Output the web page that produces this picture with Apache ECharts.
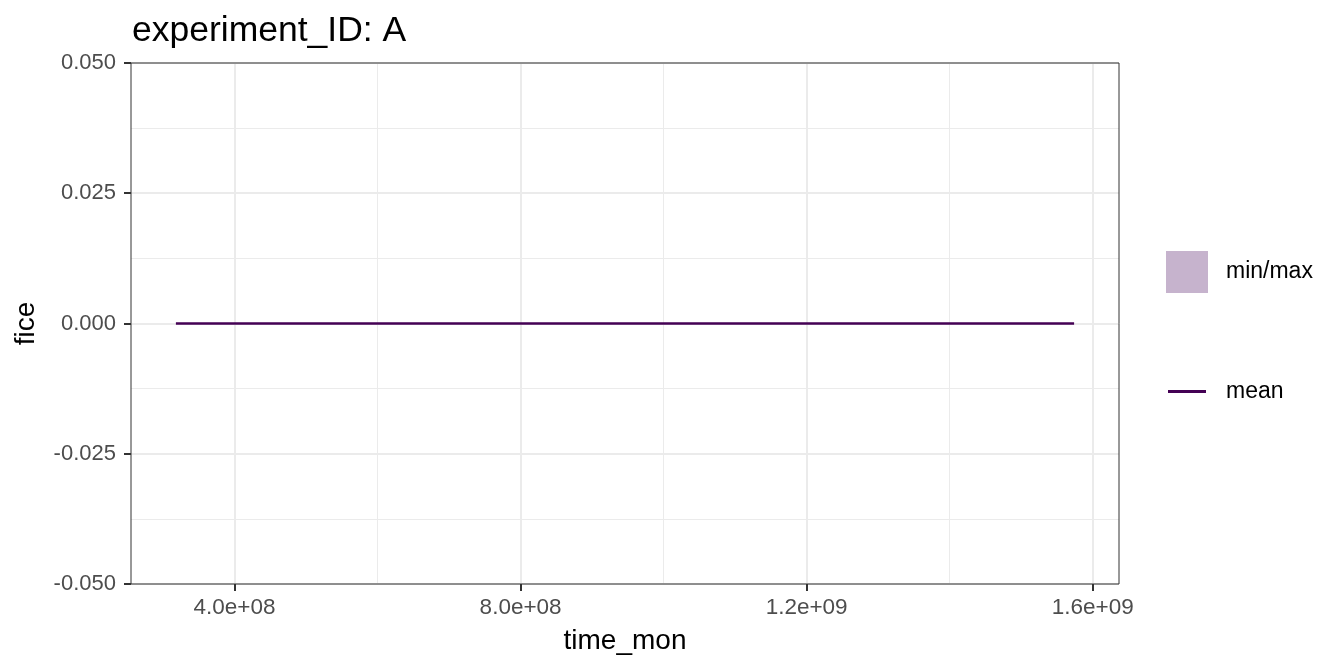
<!DOCTYPE html>
<html>
<head>
<meta charset="utf-8">
<script src="https://cdn.jsdelivr.net/npm/echarts@6/dist/echarts.min.js"></script>
<style>
  html, body { margin: 0; padding: 0; background: #fff; }
  #chart { width: 1344px; height: 672px; }
</style>
</head>
<body>
<div id="chart"></div>
<script>
// data
var timeMon = [3.18e8, 1.574e9]
var meanVals = [0, 0]
var minVals = [0, 0]
var maxVals = [0, 0]

var xMajor = [4e8, 8e8, 1.2e9, 1.6e9]
var xMinor = [6e8, 1.0e9, 1.4e9]

var fontFamily = 'Liberation Sans, Arial, sans-serif'

// ggplot style 5% expansion of the x range
var xSpan = timeMon[timeMon.length - 1] - timeMon[0]
var xMin = timeMon[0] - 0.05 * xSpan
var xMax = timeMon[timeMon.length - 1] + 0.05 * xSpan

function sci(v) {
  return v.toExponential(1).replace(/e([+-])(\d)$/, 'e$10$2')
}

function pairs(ys) {
  return timeMon.map(function (t, i) { return [t, ys[i]] })
}

var bandData = timeMon.map(function (t, i) { return [t, minVals[i], maxVals[i]] })

// ribbon between min and max, one quad per segment
function renderBand(params, api) {
  var i = params.dataIndex
  if (i >= bandData.length - 1) return null
  var a = bandData[i]
  var b = bandData[i + 1]
  var pts = [
    api.coord([a[0], a[2]]),
    api.coord([b[0], b[2]]),
    api.coord([b[0], b[1]]),
    api.coord([a[0], a[1]])
  ]
  return {
    type: 'polygon',
    shape: { points: pts },
    style: { fill: '#440154', opacity: 0.3 }
  }
}

var chart = echarts.init(document.getElementById('chart'))

chart.setOption({
  animation: false,
  textStyle: { fontFamily: fontFamily },
  title: {
    text: 'experiment_ID: A',
    left: 127,
    top: 8,
    textStyle: { fontSize: 35.5, fontWeight: 'normal', color: '#000', fontFamily: fontFamily }
  },
  grid: {
    left: 131,
    right: 225,
    top: 63,
    bottom: 88,
    show: true,
    borderColor: '#333333',
    borderWidth: 1,
    z: 3
  },
  legend: [
    {
      data: [{ name: 'min/max', icon: 'rect', itemStyle: { color: '#C6B3CD' } }],
      orient: 'vertical',
      left: 1161,
      top: 246,
      itemWidth: 42,
      itemHeight: 42,
      selectedMode: false,
      textStyle: { fontSize: 23, color: '#000', padding: [0, 0, 0, 13], fontFamily: fontFamily }
    },
    {
      data: [{ name: 'mean', icon: 'rect', itemStyle: { color: '#440154' } }],
      orient: 'vertical',
      left: 1163,
      top: 375,
      itemWidth: 38,
      itemHeight: 3,
      selectedMode: false,
      textStyle: { fontSize: 23, color: '#000', lineHeight: 22, padding: [0, 0, 0, 15], fontFamily: fontFamily }
    }
  ],
  xAxis: [
    {
      type: 'value',
      min: xMin,
      max: xMax,
      name: 'time_mon',
      nameLocation: 'middle',
      nameGap: 43,
      nameTextStyle: { fontSize: 28, color: '#000', fontFamily: fontFamily },
      axisLine: { show: false, onZero: false },
      axisTick: { show: true, customValues: xMajor, length: 7, lineStyle: { color: '#333333', width: 2 } },
      axisLabel: {
        customValues: xMajor,
        formatter: sci,
        fontSize: 22.5,
        color: '#4D4D4D',
        margin: 12,
        fontFamily: fontFamily
      },
      splitLine: { show: true, lineStyle: { color: '#EBEBEB', width: 2 } }
    },
    {
      type: 'value',
      min: xMin,
      max: xMax,
      position: 'top',
      axisLine: { show: false, onZero: false },
      axisTick: { show: false, customValues: xMinor },
      axisLabel: { show: false, customValues: xMinor },
      splitLine: { show: true, lineStyle: { color: '#EBEBEB', width: 1 } }
    }
  ],
  yAxis: {
    type: 'value',
    min: -0.05,
    max: 0.05,
    interval: 0.025,
    name: 'fice',
    nameLocation: 'middle',
    nameGap: 91,
    nameTextStyle: { fontSize: 28, color: '#000', fontFamily: fontFamily },
    axisLine: { show: false, onZero: false },
    axisTick: { show: true, length: 7, lineStyle: { color: '#333333', width: 2 } },
    axisLabel: {
      formatter: function (v) { return v.toFixed(3) },
      fontSize: 22,
      color: '#4D4D4D',
      margin: 15,
      fontFamily: fontFamily
    },
    splitLine: { show: true, lineStyle: { color: '#EBEBEB', width: 2 } },
    minorTick: { show: false, splitNumber: 2 },
    minorSplitLine: { show: true, lineStyle: { color: '#EBEBEB', width: 1 } }
  },
  series: [
    {
      name: 'min/max',
      type: 'custom',
      renderItem: renderBand,
      data: bandData,
      encode: { x: 0, y: [1, 2] },
      itemStyle: { color: '#C6B3CD' },
      silent: true
    },
    {
      name: 'mean',
      type: 'line',
      data: pairs(meanVals),
      symbol: 'none',
      itemStyle: { color: '#440154' },
      lineStyle: { color: '#440154', width: 2.5 },
      z: 4
    }
  ]
})
</script>
</body>
</html>
